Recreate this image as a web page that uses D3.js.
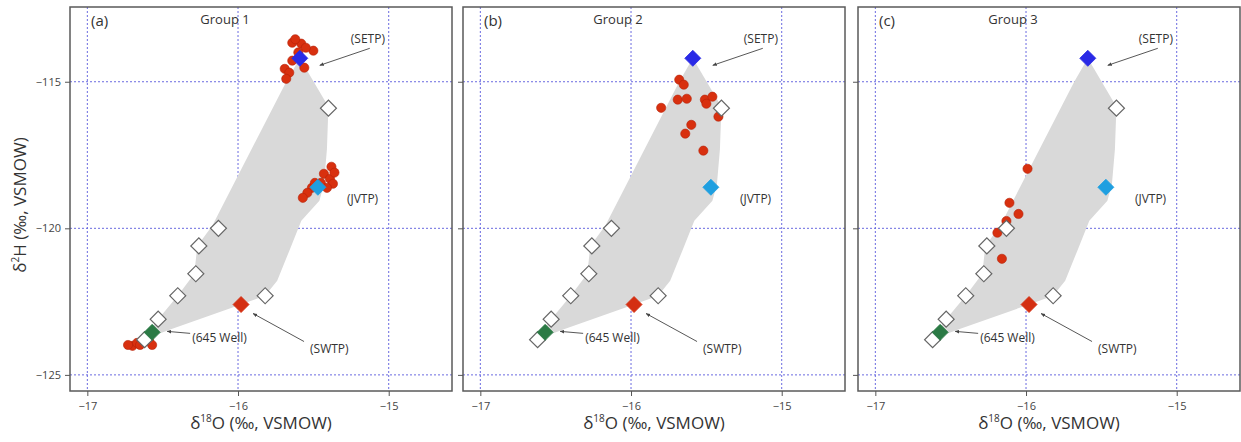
<!DOCTYPE html>
<html><head><meta charset="utf-8">
<script src="https://cdn.jsdelivr.net/npm/d3@7"></script>
<style>
html,body{margin:0;padding:0;background:#fff;}
svg{display:block;font-family:"Open Sans",sans-serif;}
</style></head>
<body><svg id="chart" width="1241" height="442"></svg>
<script>
// ---------- data ----------
const panelLetters = ["(a)", "(b)", "(c)"];
const groupTitles = ["Group 1", "Group 2", "Group 3"];
const xTicks = [-17, -16, -15];
const yTicks = [-115, -120, -125];

// end-members [d18O, d2H]
const endNames  = ["SETP", "JVTP", "SWTP", "645 Well"];
const endO      = [-15.59, -15.47, -15.98, -16.57];
const endH      = [-114.2, -118.6, -122.6, -123.55];
const endColors = ["#2a2ae6", "#1f9fe0", "#d42f12", "#2b7a45"];

// mixing-model points (open diamonds)
const mixO = [-15.40, -15.82, -16.13, -16.26, -16.28, -16.40, -16.53, -16.62];
const mixH = [-115.9, -122.3, -120.0, -120.6, -121.55, -122.3, -123.1, -123.8];

// mixing envelope outline
const hullO = [-15.59, -15.40, -15.41, -15.43, -15.46, -15.58, -15.66, -15.74, -15.82, -15.98, -16.45, -16.64, -16.53, -16.40, -16.29, -16.27, -16.17, -15.68];
const hullH = [-114.2, -115.85, -117.3, -118.5, -119.06, -119.74, -120.77, -121.79, -122.3, -122.6, -123.45, -123.82, -123.1, -122.3, -121.55, -120.6, -119.9, -115.0];

// sample groups
const g1O = [-15.64, -15.58, -15.50, -15.55, -15.62, -15.56, -15.69, -15.66, -15.68, -15.64, -15.60,
             -15.38, -15.43, -15.39, -15.37, -15.45, -15.41, -15.51, -15.54, -15.57, -15.49, -15.36,
             -16.70, -16.67, -16.65, -16.59, -16.57, -16.73];
const g1H = [-113.67, -113.70, -113.94, -113.84, -113.55, -114.52, -114.56, -114.69, -114.90, -114.28, -114.0,
             -117.90, -118.14, -118.31, -118.48, -118.45, -118.62, -118.62, -118.79, -118.96, -118.45, -118.1,
             -124.01, -123.91, -123.98, -123.84, -123.98, -123.98];
const g2O = [-15.68, -15.65, -15.69, -15.63, -15.80, -15.51, -15.46, -15.50, -15.42, -15.60, -15.64, -15.52];
const g2H = [-114.93, -115.10, -115.61, -115.58, -115.89, -115.61, -115.51, -115.75, -116.19, -116.47, -116.77, -117.35];
const g3O = [-15.99, -16.11, -16.05, -16.13, -16.19, -16.16];
const g3H = [-117.97, -119.13, -119.51, -119.75, -120.15, -121.04];
const groupsO = [g1O, g2O, g3O];
const groupsH = [g1H, g2H, g3H];

// ---------- layout ----------
const svg = d3.select("#chart");
const panelLeft = [70, 463, 858];
const pw = 382, topY = 7, ph = 384;
const xDomain = [-17.115, -14.58];
const yDomain = [-125.55, -112.45];

const defs = svg.append("defs");
defs.append("marker").attr("id","arr").attr("viewBox","0 0 10 10")
  .attr("refX",9).attr("refY",5).attr("markerWidth",5).attr("markerHeight",5)
  .attr("orient","auto-start-reverse")
  .append("path").attr("d","M0,1L10,5L0,9z").attr("fill","#444");

const diamond = d3.symbol().type(d3.symbolSquare).size(128);
const lineGen = d3.line();

panelLeft.forEach((L, p) => {
  const x = d3.scaleLinear().domain(xDomain).range([L, L + pw]);
  const y = d3.scaleLinear().domain(yDomain).range([topY + ph, topY]);
  const g = svg.append("g");

  // grid
  g.selectAll(".gx").data(xTicks).join("line")
    .attr("x1", d => x(d)).attr("x2", d => x(d)).attr("y1", topY).attr("y2", topY + ph)
    .attr("stroke", "#6a6ae0").attr("stroke-width", 1).attr("stroke-dasharray", "2,2");
  g.selectAll(".gy").data(yTicks).join("line")
    .attr("y1", d => y(d)).attr("y2", d => y(d)).attr("x1", L).attr("x2", L + pw)
    .attr("stroke", "#6a6ae0").attr("stroke-width", 1).attr("stroke-dasharray", "2,2");

  // envelope
  const hull = hullO.map((o, i) => [x(o), y(hullH[i])]);
  g.append("path").attr("d", lineGen(hull) + "Z").attr("fill", "#d9d9d9").attr("stroke", "none");

  // samples
  const gO = groupsO[p], gH = groupsH[p];
  g.selectAll(".pt").data(gO).join("circle")
    .attr("cx", d => x(d)).attr("cy", (d, i) => y(gH[i])).attr("r", 4.6)
    .attr("fill", "#d8300f").attr("stroke", "#b52208").attr("stroke-width", 0.6);

  // open diamonds
  g.selectAll(".md").data(mixO).join("path")
    .attr("d", diamond)
    .attr("transform", (d, i) => `translate(${x(d)},${y(mixH[i])}) rotate(45)`)
    .attr("fill", "#fff").attr("stroke", "#666").attr("stroke-width", 1.2);

  // end-members
  g.selectAll(".em").data(endO).join("path")
    .attr("d", diamond)
    .attr("transform", (d, i) => `translate(${x(d)},${y(endH[i])}) rotate(45)`)
    .attr("fill", (d, i) => endColors[i]).attr("stroke", (d, i) => endColors[i]).attr("stroke-width", 0.8);

  // annotations
  const ex = endO.map(v => x(v)), ey = endH.map(v => y(v));
  const ann = g.append("g").attr("font-size", 12).attr("fill", "#333");
  ann.append("text").attr("x", ex[0] + 51).attr("y", ey[0] - 15).text("(" + endNames[0] + ")");
  ann.append("line").attr("x1", ex[0] + 70).attr("y1", ey[0] - 10).attr("x2", ex[0] + 20).attr("y2", ey[0] + 7)
    .attr("stroke", "#444").attr("stroke-width", 0.9).attr("marker-end", "url(#arr)");
  ann.append("text").attr("x", ex[1] + 29).attr("y", ey[1] + 16).text("(" + endNames[1] + ")");
  ann.append("text").attr("x", ex[2] + 69).attr("y", ey[2] + 48).text("(" + endNames[2] + ")");
  ann.append("line").attr("x1", ex[2] + 63).attr("y1", ey[2] + 37).attr("x2", ex[2] + 12).attr("y2", ey[2] + 9)
    .attr("stroke", "#444").attr("stroke-width", 0.9).attr("marker-end", "url(#arr)");
  ann.append("text").attr("x", ex[3] + 40).attr("y", ey[3] + 10).text("(" + endNames[3] + ")");
  ann.append("line").attr("x1", ex[3] + 38).attr("y1", ey[3] + 1).attr("x2", ex[3] + 15).attr("y2", ey[3] - 1)
    .attr("stroke", "#444").attr("stroke-width", 0.9).attr("marker-end", "url(#arr)");

  // frame
  g.append("rect").attr("x", L).attr("y", topY).attr("width", pw).attr("height", ph)
    .attr("fill", "none").attr("stroke", "#5a5a5a").attr("stroke-width", 1.5);

  // axes
  const xa = g.append("g").attr("transform", `translate(0,${topY + ph})`)
    .call(d3.axisBottom(x).tickValues(xTicks).tickSize(5).tickPadding(6).tickFormat(d3.format("d")));
  xa.select(".domain").remove();
  xa.selectAll("line").attr("stroke", "#555");
  xa.selectAll("text").attr("font-size", 11).attr("fill", "#444").attr("font-family", "Open Sans");
  const ya = g.append("g").attr("transform", `translate(${L},0)`)
    .call(d3.axisLeft(y).tickValues(yTicks).tickSize(5).tickPadding(4).tickFormat(p === 0 ? d3.format("d") : () => ""));
  ya.select(".domain").remove();
  ya.selectAll("line").attr("stroke", "#555");
  ya.selectAll("text").attr("font-size", 11).attr("fill", "#444").attr("font-family", "Open Sans");

  // panel letter and title
  g.append("text").attr("x", L + 21).attr("y", topY + 19).attr("font-size", 15).attr("fill", "#333").text(panelLetters[p]);
  g.append("text").attr("x", L + 155).attr("y", topY + 17).attr("text-anchor", "middle")
    .attr("font-size", 13).attr("fill", "#333").text(groupTitles[p]);

  // x label
  const xl = g.append("text").attr("x", L + pw / 2).attr("y", 429).attr("text-anchor", "middle")
    .attr("font-size", 17).attr("fill", "#333");
  xl.append("tspan").text("δ");
  xl.append("tspan").attr("font-size", 10).attr("dy", -7).text("18");
  xl.append("tspan").attr("dy", 7).text("O (‰, VSMOW)");

  if (p === 0) {
    const yl = g.append("text").attr("transform", "translate(26,205) rotate(-90)").attr("text-anchor", "middle")
      .attr("font-size", 17).attr("fill", "#333");
    yl.append("tspan").text("δ");
    yl.append("tspan").attr("font-size", 10).attr("dy", -7).text("2");
    yl.append("tspan").attr("dy", 7).text("H (‰, VSMOW)");
  }
});
</script></body></html>
